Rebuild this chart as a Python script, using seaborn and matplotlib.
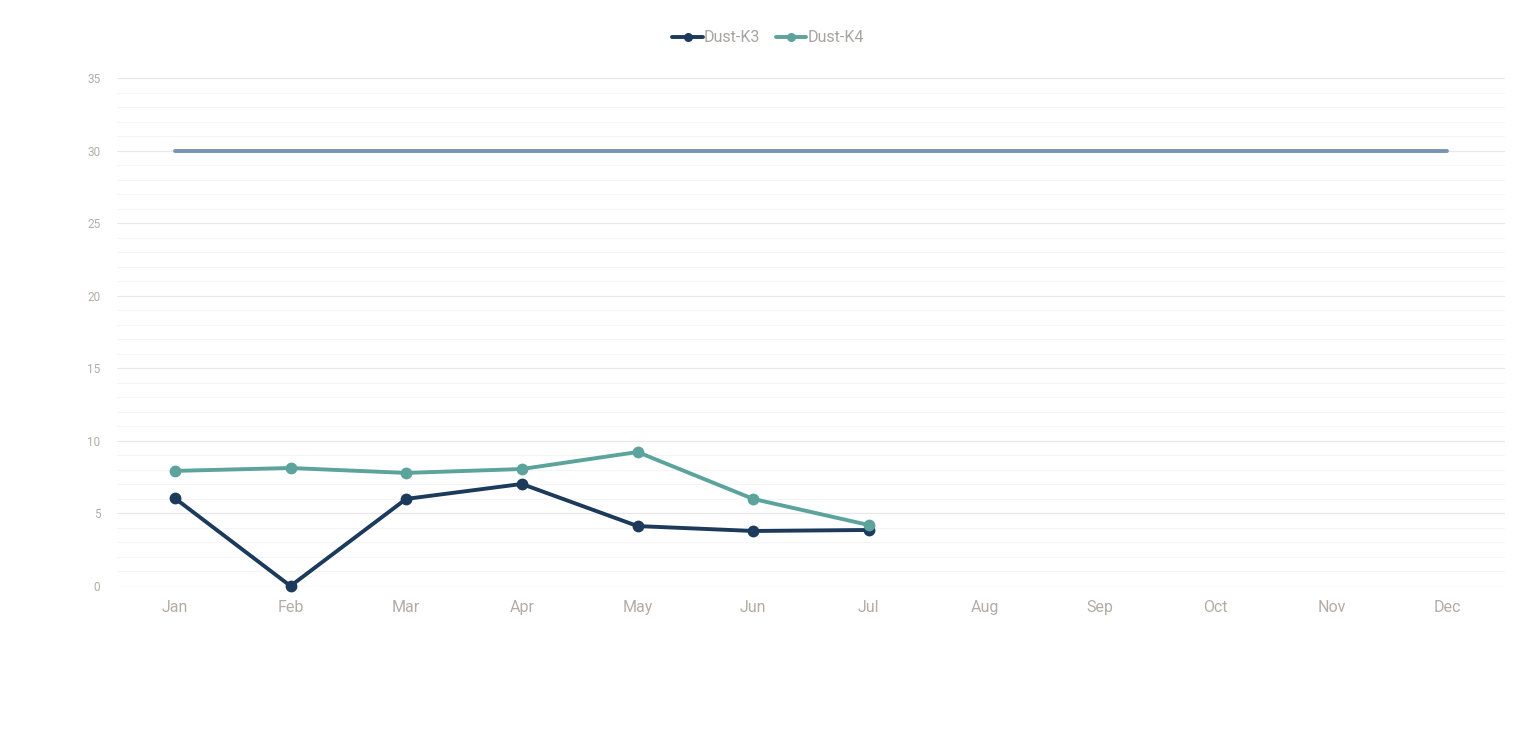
import matplotlib
matplotlib.use("Agg")
import matplotlib.pyplot as plt
from matplotlib.lines import Line2D
from matplotlib.ticker import MultipleLocator
import seaborn as sns
import pandas as pd
import numpy as np

months = ["Jan", "Feb", "Mar", "Apr", "May", "Jun", "Jul", "Aug", "Sep", "Oct", "Nov", "Dec"]
dust_k3 = [6.05, 0.0, 6.0, 7.03, 4.13, 3.79, 3.86]
dust_k4 = [7.93, 8.13, 7.79, 8.06, 9.23, 6.0, 4.2]
limit_values = [30] * 12

series_names = ["Dust-K3", "Dust-K4"]
series_colors = ["#1b3a5c", "#5ca39c"]
limit_color = "#7a93b4"

sns.set_theme(style="white")
plt.rcParams["font.family"] = ["Roboto", "DejaVu Sans"]

rows = []
for name, vals in zip(series_names, [dust_k3, dust_k4]):
    for i, v in enumerate(vals):
        rows.append({"pos": i, "value": v, "series": name})
df = pd.DataFrame(rows)
df_limit = pd.DataFrame({"pos": range(len(months)), "value": limit_values})

fig = plt.figure(figsize=(15.36, 7.56), dpi=100)
ax = fig.add_axes([117 / 1536, 1 - 586 / 756, (1505 - 117) / 1536, (586 - 78) / 756])

sns.lineplot(data=df_limit, x="pos", y="value", ax=ax, color=limit_color, linewidth=2.8,
             legend=False, zorder=2, solid_capstyle="round")
sns.lineplot(data=df, x="pos", y="value", hue="series", palette=series_colors, ax=ax,
             marker="o", markersize=8.5, markeredgewidth=0, linewidth=2.8, legend=False,
             zorder=3, clip_on=False)

ax.set_xlim(-0.5, 11.5)
ax.set_ylim(0, 35)
ax.set_xticks(range(len(months)))
ax.set_xticklabels(months)
ax.yaxis.set_major_locator(MultipleLocator(5))
ax.yaxis.set_minor_locator(MultipleLocator(1))
ax.grid(which="major", axis="y", color="#e8e8e8", linewidth=0.9)
ax.grid(which="minor", axis="y", color="#f5f5f5", linewidth=0.8)
ax.grid(False, axis="x")
for s in ax.spines.values():
    s.set_visible(False)
ax.set_xlabel("")
ax.set_ylabel("")
ax.tick_params(axis="x", labelsize=11.5, labelcolor="#b4aca4", length=0, pad=10)
ax.tick_params(axis="y", which="both", labelsize=8.5, labelcolor="#b4aca4", length=0, pad=12)

handles = [Line2D([0], [0], color=c, linewidth=2.8, marker="o", markersize=6.5, markeredgewidth=0)
           for c in series_colors]
leg = fig.legend(handles, series_names, loc="center", bbox_to_anchor=(0.5, 1 - 38 / 756), ncol=2,
                 frameon=False, fontsize=11.5, handlelength=1.9, handletextpad=0.05, columnspacing=1.0)
for t in leg.get_texts():
    t.set_color("#a8a4a0")

fig.savefig("out.png", dpi=100)
